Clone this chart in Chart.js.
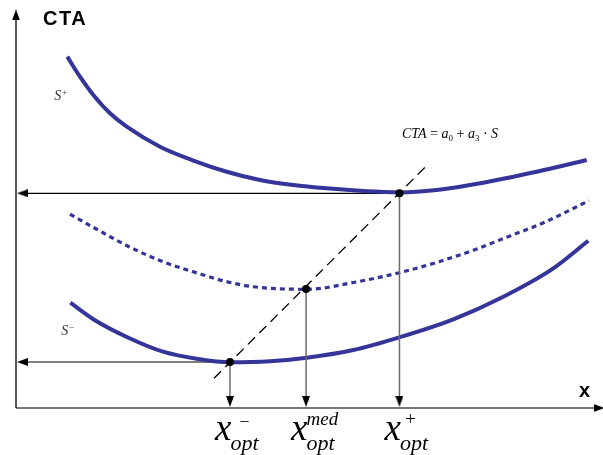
<!DOCTYPE html>
<html><head><meta charset="utf-8">
<script src="https://cdn.jsdelivr.net/npm/chart.js@4/dist/chart.umd.min.js"></script>
<style>html,body{margin:0;padding:0;background:#fff}#wrap{width:603px;height:455px}</style>
</head><body><div id="wrap"><canvas id="c" width="603" height="455"></canvas></div>
<script>
// ---- data (abstract units: x 0..10, CTA 0..10) ----
const upperX = [0.875,1.092,1.319,1.604,1.889,2.457,3.026,3.596,4.164,4.732,5.302,5.870,6.439,6.553,7.179,7.747,8.311,8.886,9.739];
const upperY = [8.849,8.345,7.884,7.423,7.086,6.582,6.234,5.952,5.743,5.617,5.534,5.474,5.435,5.43,5.491,5.617,5.775,5.952,6.247];
const medX   = [0.922,1.340,1.928,2.509,3.106,3.584,4.050,4.971,5.756,6.541,7.218,7.816,8.396,8.993,9.778];
const medY   = [4.880,4.534,4.063,3.685,3.393,3.186,3.055,2.990,3.161,3.408,3.685,3.980,4.315,4.660,5.222];
const lowerX = [0.927,1.340,1.928,2.509,3.106,3.652,4.334,4.961,5.756,6.541,7.462,8.316,9.169,9.766];
const lowerY = [2.652,2.217,1.763,1.418,1.234,1.151,1.176,1.267,1.461,1.781,2.234,2.804,3.519,4.214];
const optX = [3.652, 4.95, 6.544];
const optY = [1.159, 3.0, 5.408];
const optSup = ['\u2013', 'med', '+'];
const lineX = [3.379, 7.031];
const lineY = [0.748, 6.139];
const axisMax = [9.95, 9.9];
const axisTitles = ['x', 'CTA'];
const curveNames = ['S', 'S'];
const curveSup = ['+', '\u2013'];

const pts = (xs, ys) => xs.map((v, i) => ({x: v, y: ys[i]}));

// arrowhead sprite (points up)
const arrow = document.createElement('canvas');
arrow.width = 8; arrow.height = 11;
{ const g = arrow.getContext('2d'); g.fillStyle = '#000'; g.beginPath(); g.moveTo(4,0); g.lineTo(8,11); g.lineTo(0,11); g.closePath(); g.fill(); }
const headX = 0.111, headY = 0.164;

const BLUE = '#343499';
const datasets = [];
// dots
datasets.push({data: pts(optX, optY), showLine: false, pointRadius: 4, pointBackgroundColor: '#000', pointBorderWidth: 0, order: 0});
// dashed line
datasets.push({data: pts(lineX, lineY), showLine: true, borderColor: '#000', borderWidth: 1.3, borderDash: [10, 6], pointRadius: 0, order: 1});
// vertical arrows from optimum points
optX.forEach((ox, i) => datasets.push({data: [{x: ox, y: optY[i]}, {x: ox, y: headY}], showLine: true, borderColor: '#6b6b6b', borderWidth: 1.5,
  pointRadius: [0, 6], pointStyle: arrow, rotation: 180, order: 2}));
// horizontal arrows (S- and S+ optima)
[0, 2].forEach(i => datasets.push({data: [{x: optX[i], y: optY[i]}, {x: headX, y: optY[i]}], showLine: true, borderColor: '#000', borderWidth: 1.2,
  pointRadius: [0, 6], pointStyle: arrow, rotation: 270, order: 3}));
// curves
datasets.push({data: pts(upperX, upperY), showLine: true, borderColor: BLUE, borderWidth: 4, pointRadius: 0, cubicInterpolationMode: 'monotone', order: 2});
datasets.push({data: pts(medX, medY), showLine: true, borderColor: BLUE, borderWidth: 3.2, borderDash: [5, 4], pointRadius: 0, cubicInterpolationMode: 'monotone', order: 2});
datasets.push({data: pts(lowerX, lowerY), showLine: true, borderColor: BLUE, borderWidth: 4, pointRadius: 0, cubicInterpolationMode: 'monotone', order: 2});
// axes
datasets.push({data: [{x: 0, y: 0}, {x: 0, y: axisMax[1]}], showLine: true, borderColor: '#000', borderWidth: 1.3,
  pointRadius: [0, 6], pointStyle: arrow, rotation: 0, order: 4});
datasets.push({data: [{x: 0, y: 0}, {x: axisMax[0], y: 0}], showLine: true, borderColor: '#777', borderWidth: 1.8,
  pointRadius: [0, 6], pointStyle: arrow, rotation: 90, order: 4});
datasets.forEach(d => { d.clip = false; });

const SERIF = '"Liberation Serif","Times New Roman",serif';
const SANS = '"Liberation Sans",Arial,sans-serif';
function runs(ctx, x, y, parts) {
  for (const p of parts) {
    ctx.font = p.f;
    ctx.fillText(p.t, x + (p.dx || 0), y + (p.dy || 0));
    x += ctx.measureText(p.t).width + (p.dx || 0);
  }
}

const labels = {
  id: 'labels',
  afterDatasetsDraw(chart) {
    const {ctx, scales: {x, y}} = chart;
    const X = v => x.getPixelForValue(v), Y = v => y.getPixelForValue(v);
    ctx.save();
    ctx.fillStyle = '#000';
    ctx.textBaseline = 'alphabetic';
    ctx.textAlign = 'left';
    // axis titles
    ctx.font = 'bold 20px ' + SANS;
    ctx.letterSpacing = '1.5px';
    ctx.fillText(axisTitles[1], X(0) + 27, Y(10) + 14);
    ctx.letterSpacing = '0px';
    ctx.fillText(axisTitles[0], X(10) - 23, Y(0) - 11);
    // formula
    const it14 = 'italic 14px ' + SERIF, r14 = '14px ' + SERIF, r9 = '9px ' + SERIF;
    runs(ctx, X(lineX[1]) - 26, Y(lineY[1]) - 26, [
      {t: 'CTA', f: it14}, {t: ' = ', f: r14}, {t: 'a', f: it14}, {t: '0', f: r9, dy: 3},
      {t: ' + ', f: r14}, {t: 'a', f: it14}, {t: '3', f: r9, dy: 3}, {t: ' \u00B7 ', f: r14}, {t: 'S', f: it14}
    ]);
    // curve labels
    ctx.fillStyle = '#333';
    runs(ctx, X(upperX[0]) - 13, Y(upperY[0]) + 43, [{t: curveNames[0], f: 'italic 14px ' + SERIF}, {t: curveSup[0], f: '9px ' + SERIF, dy: -5, dx: 1}]);
    runs(ctx, X(lowerX[0]) - 9, Y(lowerY[0]) + 32, [{t: curveNames[1], f: 'italic 14px ' + SERIF}, {t: curveSup[1], f: '9px ' + SERIF, dy: -6, dx: 1}]);
    ctx.fillStyle = '#000';
    // x_opt labels
    const supDx = [9, -1, 4];
    const supF = ['16px ' + SERIF, 'italic 19px ' + SERIF, '19px ' + SERIF];
    optX.forEach((ox, i) => {
      const L = X(ox) - 15, B = Y(0) + 32;
      ctx.font = 'italic 37px ' + SERIF;
      ctx.fillText('x', L, B);
      const w = ctx.measureText('x').width;
      ctx.font = 'italic 22px ' + SERIF;
      ctx.fillText('opt', L + w - 1, B + 10);
      ctx.font = supF[i];
      ctx.fillText(optSup[i], L + w + supDx[i], B - 15);
    });
    ctx.restore();
  }
};

new Chart(document.getElementById('c'), {
  type: 'scatter',
  data: {datasets},
  options: {
    responsive: false,
    animation: false,
    events: [],
    layout: {autoPadding: false, padding: {left: 16, right: 1, top: 11, bottom: 47}},
    scales: {
      x: {type: 'linear', min: 0, max: 10, display: false},
      y: {type: 'linear', min: 0, max: 10, display: false}
    },
    plugins: {legend: {display: false}, tooltip: {enabled: false}}
  },
  plugins: [labels]
});
</script>
</body></html>
